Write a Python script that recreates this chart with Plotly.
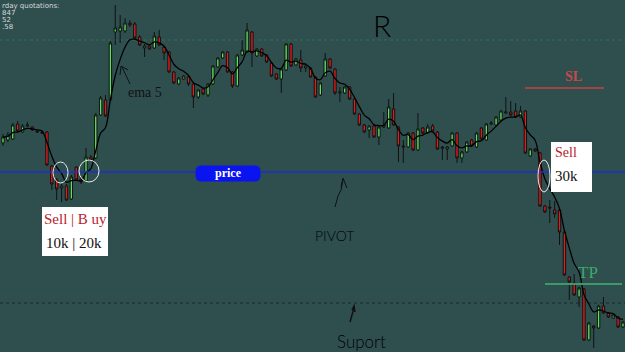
import plotly.graph_objects as go
import pandas as pd

# ---- data (prices) ----
open_ = [1.3257,1.3260,1.3261,1.3276,1.3268,1.3274,1.3273,1.3269,1.3268,1.3268,
         1.3234,1.3220,1.3212,1.3214,1.3201,1.3233,1.3221,1.3219,1.3243,1.3242,
         1.3285,1.3300,1.3300,1.3368,1.3369,1.3369,1.3377,1.3376,1.3363,1.3352,
         1.3354,1.3352,1.3363,1.3353,1.3348,1.3328,1.3316,1.3321,1.3323,1.3316,
         1.3303,1.3311,1.3305,1.3316,1.3333,1.3342,1.3348,1.3328,1.3314,1.3345,
         1.3348,1.3368,1.3344,1.3351,1.3345,1.3337,1.3326,1.3321,1.3330,1.3356,
         1.3335,1.3340,1.3332,1.3332,1.3323,1.3305,1.3324,1.3341,1.3331,1.3307,
         1.3307,1.3313,1.3301,1.3286,1.3275,1.3270,1.3274,1.3263,1.3273,1.3272,
         1.3291,1.3273,1.3254,1.3253,1.3267,1.3250,1.3272,1.3267,1.3274,1.3268,
         1.3253,1.3251,1.3254,1.3267,1.3242,1.3248,1.3260,1.3253,1.3272,1.3260,
         1.3276,1.3275,1.3280,1.3287,1.3288,1.3289,1.3283,1.3289,1.3244,1.3251,
         1.3247,1.3194,1.3193,1.3190,1.3190,1.3168,1.3123,1.3117,1.3103,1.3111,
         1.3060,1.3074,1.3072,1.3094,1.3087,1.3082,1.3083,1.3073]
high = [1.3266,1.3268,1.3277,1.3279,1.3276,1.3278,1.3274,1.3270,1.3269,1.3269,
        1.3235,1.3222,1.3216,1.3216,1.3225,1.3234,1.3223,1.3252,1.3245,1.3287,
        1.3304,1.3305,1.3359,1.3395,1.3385,1.3382,1.3380,1.3378,1.3365,1.3356,
        1.3355,1.3368,1.3370,1.3354,1.3349,1.3329,1.3323,1.3325,1.3324,1.3317,
        1.3311,1.3312,1.3317,1.3335,1.3343,1.3349,1.3349,1.3329,1.3346,1.3360,
        1.3377,1.3369,1.3352,1.3352,1.3346,1.3338,1.3327,1.3332,1.3357,1.3357,
        1.3342,1.3350,1.3337,1.3333,1.3324,1.3318,1.3347,1.3342,1.3332,1.3313,
        1.3314,1.3314,1.3302,1.3287,1.3276,1.3275,1.3275,1.3274,1.3288,1.3301,
        1.3307,1.3274,1.3260,1.3268,1.3268,1.3287,1.3273,1.3276,1.3276,1.3269,
        1.3254,1.3254,1.3268,1.3268,1.3249,1.3259,1.3261,1.3268,1.3273,1.3277,
        1.3279,1.3284,1.3290,1.3303,1.3299,1.3297,1.3294,1.3290,1.3252,1.3252,
        1.3248,1.3195,1.3200,1.3199,1.3191,1.3169,1.3124,1.3126,1.3113,1.3112,
        1.3078,1.3075,1.3095,1.3103,1.3088,1.3086,1.3084,1.3079]
low = [1.3254,1.3258,1.3260,1.3268,1.3267,1.3273,1.3269,1.3267,1.3266,1.3234,
       1.3210,1.3200,1.3198,1.3199,1.3200,1.3219,1.3216,1.3218,1.3239,1.3241,
       1.3284,1.3283,1.3299,1.3355,1.3357,1.3367,1.3373,1.3361,1.3354,1.3343,
       1.3350,1.3351,1.3354,1.3340,1.3327,1.3316,1.3315,1.3320,1.3314,1.3292,
       1.3301,1.3305,1.3303,1.3315,1.3332,1.3341,1.3327,1.3312,1.3313,1.3344,
       1.3347,1.3333,1.3343,1.3343,1.3337,1.3323,1.3320,1.3307,1.3329,1.3333,
       1.3334,1.3328,1.3328,1.3322,1.3302,1.3304,1.3323,1.3331,1.3305,1.3298,
       1.3306,1.3300,1.3285,1.3274,1.3267,1.3262,1.3262,1.3255,1.3272,1.3271,
       1.3274,1.3238,1.3237,1.3252,1.3249,1.3249,1.3266,1.3266,1.3268,1.3250,
       1.3240,1.3240,1.3253,1.3237,1.3237,1.3247,1.3253,1.3252,1.3260,1.3259,
       1.3275,1.3274,1.3279,1.3286,1.3284,1.3282,1.3282,1.3246,1.3243,1.3248,
       1.3193,1.3187,1.3177,1.3182,1.3155,1.3124,1.3100,1.3104,1.3093,1.3059,
       1.3059,1.3052,1.3071,1.3086,1.3082,1.3081,1.3072,1.3072]
close = [1.3263,1.3265,1.3275,1.3269,1.3274,1.3275,1.3270,1.3268,1.3267,1.3235,
         1.3216,1.3211,1.3214,1.3200,1.3223,1.3220,1.3218,1.3243,1.3240,1.3285,
         1.3302,1.3284,1.3357,1.3372,1.3373,1.3377,1.3375,1.3362,1.3355,1.3354,
         1.3351,1.3364,1.3355,1.3347,1.3328,1.3317,1.3322,1.3324,1.3316,1.3303,
         1.3310,1.3306,1.3316,1.3334,1.3342,1.3348,1.3328,1.3314,1.3345,1.3350,
         1.3370,1.3347,1.3351,1.3344,1.3338,1.3324,1.3321,1.3331,1.3356,1.3334,
         1.3341,1.3332,1.3334,1.3323,1.3303,1.3317,1.3341,1.3332,1.3307,1.3308,
         1.3313,1.3301,1.3286,1.3275,1.3268,1.3274,1.3263,1.3273,1.3275,1.3293,
         1.3275,1.3254,1.3253,1.3267,1.3250,1.3271,1.3267,1.3273,1.3269,1.3251,
         1.3252,1.3253,1.3267,1.3242,1.3248,1.3258,1.3254,1.3267,1.3261,1.3276,
         1.3277,1.3283,1.3289,1.3288,1.3285,1.3283,1.3289,1.3247,1.3251,1.3249,
         1.3194,1.3188,1.3192,1.3186,1.3168,1.3125,1.3118,1.3105,1.3112,1.3060,
         1.3077,1.3072,1.3094,1.3087,1.3083,1.3085,1.3073,1.3078]
bars = list(range(len(close)))

price_level = 1.3228
resistance_level = 1.3360
support_level = 1.3097
sl_level = 1.3312
tp_level = 1.3116
ema_span = 5

W, H = 625, 352
BG = "#2f4f4f"

def px(x):
    return x / W

def py(y):
    return 1 - y / H

ema = pd.Series(close).ewm(span=ema_span, adjust=False).mean()

fig = go.Figure()
fig.add_trace(go.Candlestick(
    x=bars, open=open_, high=high, low=low, close=close,
    increasing=dict(fillcolor="#5fe05f", line=dict(color="#111111", width=1)),
    decreasing=dict(fillcolor="#e01e1e", line=dict(color="#111111", width=1)),
    whiskerwidth=0, showlegend=False, hoverinfo="skip"))
fig.add_trace(go.Scatter(x=bars, y=ema, mode="lines",
                         line=dict(color="#000000", width=1.3, shape="spline"),
                         showlegend=False, hoverinfo="skip"))

shapes = []
shapes.append(dict(type="line", xref="paper", x0=0, x1=1, yref="y",
                   y0=resistance_level, y1=resistance_level,
                   line=dict(color="#2e7050", width=1, dash="dot"), layer="below"))
shapes.append(dict(type="line", xref="paper", x0=0, x1=1, yref="y",
                   y0=support_level, y1=support_level,
                   line=dict(color="#1c2626", width=1, dash="dot"), layer="below"))
shapes.append(dict(type="line", xref="paper", x0=0, x1=1, yref="y",
                   y0=price_level, y1=price_level,
                   line=dict(color="#1f2fc8", width=1.5)))
shapes.append(dict(type="line", xref="paper", x0=px(525), x1=px(604), yref="y",
                   y0=sl_level, y1=sl_level, line=dict(color="#c84040", width=1.5)))
shapes.append(dict(type="line", xref="paper", x0=px(545), x1=px(622), yref="y",
                   y0=tp_level, y1=tp_level, line=dict(color="#3c9a68", width=2)))

x0, x1, y0, y1, r = 196, 260, 166, 181, 5
path = (f"M {px(x0+r)},{py(y0)} L {px(x1-r)},{py(y0)} Q {px(x1)},{py(y0)} {px(x1)},{py(y0+r)} "
        f"L {px(x1)},{py(y1-r)} Q {px(x1)},{py(y1)} {px(x1-r)},{py(y1)} "
        f"L {px(x0+r)},{py(y1)} Q {px(x0)},{py(y1)} {px(x0)},{py(y1-r)} "
        f"L {px(x0)},{py(y0+r)} Q {px(x0)},{py(y0)} {px(x0+r)},{py(y0)} Z")
shapes.append(dict(type="path", xref="paper", yref="paper", path=path,
                   fillcolor="#0a14f0", line=dict(color="#0a14f0", width=1)))

shapes.append(dict(type="rect", xref="paper", yref="paper", x0=px(42), x1=px(108),
                   y0=py(256), y1=py(207), fillcolor="white", line=dict(width=0)))
shapes.append(dict(type="rect", xref="paper", yref="paper", x0=px(551), x1=px(592),
                   y0=py(192), y1=py(142), fillcolor="white", line=dict(width=0)))

for (a, b, c, d) in [(53, 68, 162, 183), (79, 99, 160, 182), (538, 550, 160, 192)]:
    shapes.append(dict(type="circle", xref="paper", yref="paper", x0=px(a), x1=px(b),
                       y0=py(d), y1=py(c), line=dict(color="#e8e8e8", width=1)))

def seg_path(points_list):
    s = ""
    for pts in points_list:
        s += "M " + " L ".join(f"{px(x)},{py(y)}" for x, y in pts) + " "
    return s

shapes.append(dict(type="path", xref="paper", yref="paper",
                   path=seg_path([[(130, 84), (122, 67)], [(120, 75), (121, 66), (128, 70)]]),
                   line=dict(color="#111", width=1)))
shapes.append(dict(type="path", xref="paper", yref="paper",
                   path=seg_path([[(335, 207), (338, 196), (341, 190), (343, 180)],
                                  [(341, 187), (343, 178), (347, 188)]]),
                   line=dict(color="#111", width=1)))
shapes.append(dict(type="path", xref="paper", yref="paper",
                   path=seg_path([[(350, 322), (354, 308)], [(352, 310), (354, 306), (355, 312)]]),
                   line=dict(color="#111", width=1.5)))

ann = []
def text(x, y, t, size, color, family="Liberation Serif", xanchor="center", weight=None):
    f = dict(size=size, color=color, family=family)
    if weight:
        f["weight"] = weight
    ann.append(dict(x=px(x), y=py(y), xref="paper", yref="paper", text=t,
                    showarrow=False, font=f, xanchor=xanchor, yanchor="middle"))

text(228, 173, "<b>price</b>", 12, "white")
text(75, 219, "Sell | B uy", 15, "#b81c2c")
text(74, 243, "10k | 20k", 15, "#111")
text(553, 152, "Sell", 14, "#b81c2c", xanchor="left")
text(553, 176, "30k", 15, "#111", xanchor="left")
text(145, 92, "ema 5", 14, "#111")
text(573, 76, "<b>SL</b>", 14, "#c84848")
text(588, 272, "TP", 17, "#3ca86a")
text(382, 25, "R", 30, "#000000", family="Lato", weight=300)
text(334, 235, "PIVOT", 14, "#000000", family="Lato", weight=300)
text(361, 341, "Suport", 17, "#000000", family="Lato", weight=300)
text(0, 6, "rday quotations:", 7, "#d8d8d8", family="DejaVu Sans", xanchor="left")
text(0, 13, "847", 7, "#d8d8d8", family="DejaVu Sans", xanchor="left")
text(0, 20, "52", 7, "#d8d8d8", family="DejaVu Sans", xanchor="left")
text(0, 27, ".58", 7, "#d8d8d8", family="DejaVu Sans", xanchor="left")

fig.update_layout(
    width=W, height=H, margin=dict(l=0, r=0, t=0, b=0),
    paper_bgcolor=BG, plot_bgcolor=BG,
    xaxis=dict(range=[-0.6145, 127.41], visible=False, rangeslider=dict(visible=False),
               fixedrange=True),
    yaxis=dict(range=[1.3048, 1.3400], visible=False, fixedrange=True),
    shapes=shapes, annotations=ann, showlegend=False)

fig.write_html("out.html", config=dict(displayModeBar=False))
